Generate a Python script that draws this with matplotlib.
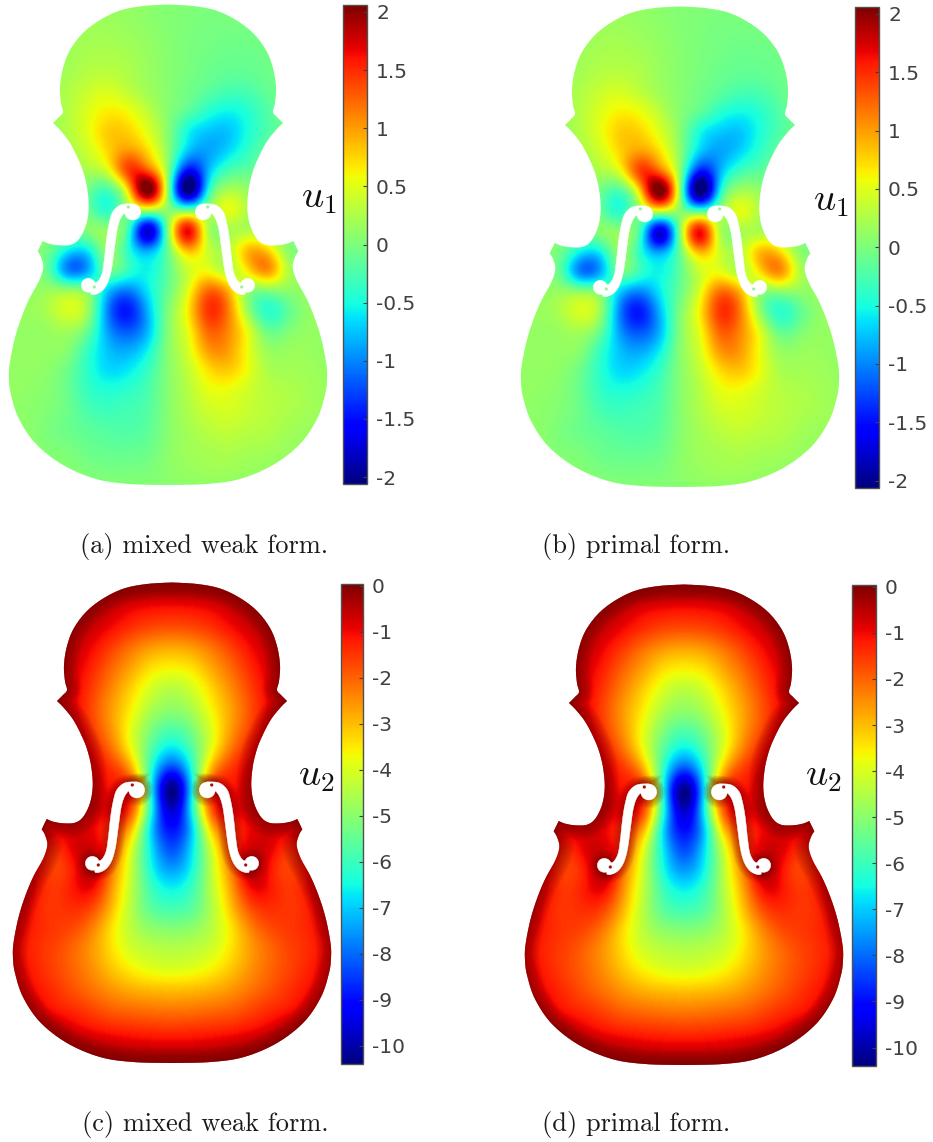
import numpy as np
import matplotlib
matplotlib.use('Agg')
import matplotlib.pyplot as plt
from matplotlib.cm import ScalarMappable
from matplotlib.colors import Normalize
from matplotlib.patches import Polygon, Circle

W, H = 933, 1142
plt.rcParams['mathtext.fontset'] = 'cm'

# left half of the violin outline, mirrored about x = 168 (pixels of panel a)
outline_x = [168, 143, 120, 100, 83, 70, 63, 60, 61, 63, 59, 53, 60, 70, 80, 85, 87.7, 88.7, 86, 79.3, 71, 59.3,
             49.3, 42.7, 37.7, 41, 43.3, 39.3, 29.3, 21, 14.3, 9.5, 9, 11, 19, 36, 63, 96, 129, 168]
outline_y = [4.5, 6, 10.5, 20, 33, 50, 68, 87, 103, 112, 117, 123, 130, 143, 163, 178, 192, 208.7, 225, 238.7,
             244.7, 245.3, 243.7, 241, 251.3, 257, 267, 280.3, 298.7, 318.7, 340.3, 365, 380, 395, 419, 444, 465,
             479, 484, 485]
outline_corners = [11, 23, 24]

# left f-hole stem, its two bulbs and the small nick in each bulb
hole_x = [132.7, 121, 113, 109.5, 106.8, 104.2, 102, 97.7, 92.7, 91, 99.8, 106.8, 111.2, 114.2, 117, 120.3, 125,
          129.3]
hole_y = [203.8, 204.8, 211.5, 222, 237, 260.3, 273.7, 281.5, 284.3, 294.2, 292.5, 284.5, 270.8, 250.3, 230.3,
          219, 212.5, 210.3]
bulb_x = [132.7, 88.3]
bulb_y = [212, 285.3]
bulb_r = [8, 7]
nick_x = [128.3, 94.3]
nick_y = [207, 287]

grid_x = [-12, 8, 28, 48, 68, 88, 108, 128, 148, 168, 188, 208, 228, 248, 268, 288, 308, 328, 348]
grid_y = list(range(10, 491, 20))

u1_field = [
    [.10, .10, .10, .10, .12, .14, .14, .12, .08, .04, .02, .00, .00, .00, .02, .03, .04, .04, .04],
    [.10, .10, .10, .12, .14, .18, .18, .15, .10, .05, .01, -.02, -.03, -.03, -.01, .02, .04, .04, .04],
    [.10, .10, .12, .14, .18, .22, .23, .20, .13, .06, .00, -.04, -.07, -.07, -.04, .01, .04, .04, .04],
    [.10, .10, .12, .15, .20, .28, .30, .25, .15, .06, -.01, -.08, -.12, -.12, -.07, .00, .04, .04, .04],
    [.10, .10, .12, .16, .26, .38, .45, .33, .18, .06, -.05, -.16, -.26, -.24, -.12, -.01, .04, .04, .04],
    [.10, .10, .12, .16, .28, .48, .63, .56, .32, .06, -.15, -.40, -.52, -.42, -.20, -.03, .04, .04, .04],
    [.10, .10, .10, .14, .28, .52, .78, .76, .48, .06, -.50, -.72, -.74, -.48, -.22, -.05, .04, .04, .04],
    [.10, .10, .10, .12, .22, .42, .75, 1.00, .72, .08, -.72, -.88, -.68, -.38, -.12, .00, .04, .04, .04],
    [.10, .10, .10, .10, .12, .24, .50, 1.40, 1.28, .10, -1.50, -.85, -.30, -.15, .00, .02, .04, .04, .04],
    [.10, .10, .10, .08, .05, -.05, -.25, .75, 2.15, .12, -2.15, -.55, .20, .12, .05, .04, .04, .04, .04],
    [.10, .10, .10, .10, .08, -.10, -.40, .10, .30, .08, -.10, .10, .52, .25, .10, .05, .04, .04, .04],
    [.10, .10, .08, .05, -.05, .05, .10, -.30, -1.75, .02, 1.65, .30, .20, .25, .15, .08, .05, .04, .04],
    [.10, .08, .02, -.05, -.55, -.55, .10, -.40, -.90, -.10, .90, .42, .30, .85, .75, .10, .05, .04, .04],
    [.10, .08, .02, -.15, -1.00, -.85, -.10, -.35, -.55, -.15, .40, .55, .30, .70, 1.05, .30, .08, .04, .04],
    [.10, .10, .10, .15, .10, -.05, -.70, -1.00, -.60, -.10, .50, 1.20, .90, .15, .08, .10, .10, .05, .05],
    [.10, .12, .15, .25, .45, .15, -1.00, -1.45, -.80, .00, .65, 1.45, 1.15, .15, -.40, -.15, .10, .08, .05],
    [.10, .12, .12, .15, .20, -.10, -.90, -1.20, -.80, .03, .55, 1.25, 1.10, .50, -.10, .00, .12, .10, .05],
    [.10, .12, .12, .12, .05, -.35, -.75, -.85, -.55, .05, .45, 1.00, 1.00, .55, .15, .14, .15, .10, .05],
    [.10, .12, .12, .08, -.08, -.40, -.65, -.60, -.35, .05, .35, .70, .80, .55, .25, .20, .18, .12, .05],
    [.10, .12, .10, .05, -.10, -.35, -.45, -.40, -.25, .05, .28, .52, .55, .42, .30, .25, .20, .14, .05],
    [.10, .10, .08, .03, -.08, -.25, -.32, -.28, -.20, .05, .25, .40, .45, .38, .30, .25, .20, .14, .05],
    [.10, .10, .08, .00, -.08, -.15, -.20, -.22, -.15, .05, .20, .30, .35, .30, .27, .20, .15, .12, .05],
    [.10, .10, .08, .03, .00, -.08, -.12, -.12, -.08, .07, .18, .22, .25, .22, .20, .15, .12, .08, .05],
    [.08, .08, .06, .05, .04, .00, -.02, -.02, .00, .08, .14, .18, .18, .15, .12, .10, .08, .06, .05],
    [.05, .05, .05, .05, .05, .05, .05, .05, .05, .05, .08, .08, .08, .08, .08, .06, .05, .05, .05],
]

# u2 is symmetric: columns are 0, 20, ..., 180 px from the centre line
u2_half = [
    [-.30, -.28, -.22, -.12, -.05, 0, 0, 0, 0, 0],
    [-1.10, -1.05, -.90, -.60, -.30, -.08, 0, 0, 0, 0],
    [-1.80, -1.72, -1.45, -1.05, -.65, -.30, 0, 0, 0, 0],
    [-2.80, -2.65, -2.20, -1.60, -1.00, -.50, -.10, 0, 0, 0],
    [-3.60, -3.40, -2.75, -2.05, -1.30, -.65, -.05, 0, 0, 0],
    [-4.40, -4.05, -3.25, -2.40, -1.55, -.75, -.10, 0, 0, 0],
    [-4.90, -4.55, -3.60, -2.65, -1.70, -.80, -.10, 0, 0, 0],
    [-5.70, -5.15, -3.90, -2.60, -1.55, -.55, 0, 0, 0, 0],
    [-6.70, -5.70, -3.80, -2.20, -1.15, -.30, 0, 0, 0, 0],
    [-8.40, -6.30, -2.90, -1.50, -.80, -.10, 0, 0, 0, 0],
    [-10.30, -6.70, -1.80, -1.10, -.60, 0, 0, 0, 0, 0],
    [-9.80, -6.50, -1.80, -.90, -.60, -.30, -.20, 0, 0, 0],
    [-9.00, -7.00, -3.00, -1.60, -.90, -.70, -.70, -.10, 0, 0],
    [-8.30, -6.80, -4.00, -1.80, -.70, -.90, -1.40, -.60, -.10, 0],
    [-7.50, -6.50, -4.30, -2.20, -.50, -1.20, -1.60, -.80, -.10, 0],
    [-6.60, -6.00, -4.40, -2.60, -1.00, -1.20, -1.50, -.90, -.10, 0],
    [-5.90, -5.60, -4.50, -3.00, -1.70, -1.40, -1.50, -1.10, -.30, 0],
    [-5.10, -4.95, -4.40, -3.40, -2.30, -1.70, -1.50, -1.20, -.60, 0],
    [-4.50, -4.40, -4.10, -3.40, -2.60, -2.00, -1.60, -1.30, -.80, -.10],
    [-4.00, -3.90, -3.60, -3.10, -2.50, -2.00, -1.60, -1.20, -.70, -.10],
    [-3.10, -3.05, -2.90, -2.60, -2.20, -1.80, -1.40, -1.00, -.50, 0],
    [-2.30, -2.25, -2.15, -2.00, -1.70, -1.40, -1.10, -.60, -.10, 0],
    [-1.50, -1.48, -1.40, -1.30, -1.10, -.80, -.40, -.10, 0, 0],
    [-.70, -.68, -.62, -.50, -.35, -.15, 0, 0, 0, 0],
    [0, 0, 0, 0, 0, 0, 0, 0, 0, 0],
]

u1_ticks = [-2, -1.5, -1, -0.5, 0, 0.5, 1, 1.5, 2]
u1_tick_labels = ['-2', '-1.5', '-1', '-0.5', '0', '0.5', '1', '1.5', '2']
u2_ticks = [-10, -9, -8, -7, -6, -5, -4, -3, -2, -1, 0]
u2_tick_labels = ['-10', '-9', '-8', '-7', '-6', '-5', '-4', '-3', '-2', '-1', '0']

CENTER = 168


def rect(x0, y0, x1, y1):
    return [x0 / W, 1 - y1 / H, (x1 - x0) / W, (y1 - y0) / H]


def smooth(x, y, corners=()):
    # round off a traced polyline, keeping the listed points as sharp corners
    pts = np.column_stack([x, y])
    cuts = [0] + list(corners) + [len(pts) - 1]
    out = []
    for a, b in zip(cuts[:-1], cuts[1:]):
        seg = pts[a:b + 1]
        seg = np.vstack([seg[0], seg, seg[-1]])
        for i in range(1, len(seg) - 2):
            p0, p1, p2, p3 = seg[i - 1:i + 3]
            for t in np.linspace(0, 1, 8, endpoint=False):
                out.append(.5 * (2 * p1 + (p2 - p0) * t + (2 * p0 - 5 * p1 + 4 * p2 - p3) * t ** 2
                                 + (3 * p1 - p0 - 3 * p2 + p3) * t ** 3))
    out.append(pts[-1])
    return np.array(out)


def draw_violin(dx, dy, field, vmin, vmax, rim, nick_color):
    ax = fig.add_axes(rect(dx - 10, dy, dx + 340, dy + 495))
    ax.set_xlim(-10, 340)
    ax.set_ylim(495, 0)
    ax.axis('off')

    half = smooth(outline_x, outline_y, outline_corners)
    xs = np.concatenate([half[:, 0], 2 * CENTER - half[-2:0:-1, 0]])
    ys = np.concatenate([half[:, 1], half[-2:0:-1, 1]])
    body = Polygon(np.column_stack([xs, ys]), closed=True, fc='none', ec='none')
    ax.add_patch(body)

    extent = (grid_x[0] - 10, grid_x[-1] + 10, grid_y[-1] + 10, grid_y[0] - 10)
    im = ax.imshow(field, cmap='jet', vmin=vmin, vmax=vmax, extent=extent, origin='upper',
                   interpolation='spline36', interpolation_stage='data', aspect='auto')
    im.set_clip_path(body)

    stem = smooth(hole_x, hole_y)
    holes = []
    for mirror in (False, True):
        px = 2 * CENTER - stem[:, 0] if mirror else stem[:, 0]
        holes.append(Polygon(np.column_stack([px, stem[:, 1]]), closed=True))
        for bx, by, br in zip(bulb_x, bulb_y, bulb_r):
            holes.append(Circle((2 * CENTER - bx if mirror else bx, by), br))

    # dark band along the fixed boundary in the u2 plots
    if rim:
        edge = plt.cm.jet(1.0)
        for lw in range(30, 0, -2):
            ln, = ax.plot(np.append(xs, xs[0]), np.append(ys, ys[0]), color=edge, lw=lw * .72, alpha=.055,
                          solid_joinstyle='round')
            ln.set_clip_path(body)
            for h in holes:
                hp = Polygon(h.get_path().transformed(h.get_patch_transform()).vertices, closed=True,
                             fc='none', ec=edge, lw=lw * .4, alpha=.035)
                ax.add_patch(hp)
                hp.set_clip_path(body)

    for h in holes:
        h.set_facecolor('white')
        h.set_edgecolor('white')
        h.set_linewidth(.3)
        ax.add_patch(h)

    for nx, ny in zip(nick_x, nick_y):
        ax.add_patch(Circle((nx, ny), 1.6, fc=nick_color, ec='none'))
        ax.add_patch(Circle((2 * CENTER - nx, ny), 1.6, fc=nick_color, ec='none'))


def draw_colorbar(x0, y0, x1, y1, vmin, vmax, ticks, labels):
    cax = fig.add_axes(rect(x0, y0, x1, y1))
    cb = fig.colorbar(ScalarMappable(Normalize(vmin, vmax), 'jet'), cax=cax)
    cb.set_ticks(ticks)
    cb.set_ticklabels(labels)
    cb.ax.tick_params(direction='in', length=3, width=.8, color='#404040', labelcolor='#404040',
                      labelsize=14.5, pad=6.5)
    cb.outline.set_edgecolor('#505050')
    cb.outline.set_linewidth(1)


def put_text(x, y, s, **kw):
    fig.text(x / W, 1 - y / H, s, **kw)


fig = plt.figure(figsize=(W / 100, H / 100), dpi=100)

u2_field = np.hstack([np.array(u2_half)[:, ::-1], np.array(u2_half)[:, 1:]])

draw_violin(0, 0, u1_field, -2.06, 2.06, False, '#9cf2a0')
draw_violin(512, 2, u1_field, -2.06, 2.06, False, '#9cf2a0')
draw_violin(4, 578, u2_field, -10.4, 0.04, True, '#a01010')
draw_violin(516, 580, u2_field, -10.4, 0.04, True, '#a01010')

draw_colorbar(343, 5, 367, 484, -2.06, 2.06, u1_ticks, u1_tick_labels)
draw_colorbar(854.5, 7, 879, 487.5, -2.06, 2.06, u1_ticks, u1_tick_labels)
draw_colorbar(341, 584, 363, 1064, -10.4, 0.04, u2_ticks, u2_tick_labels)
draw_colorbar(852, 585, 875.5, 1066, -10.4, 0.04, u2_ticks, u2_tick_labels)

for x, y, s in [(319, 197, '$u_1$'), (831, 200, '$u_1$'), (316, 775, '$u_2$'), (823, 775, '$u_2$')]:
    put_text(x, y, s, fontsize=28, ha='center', va='center', color='#111111')

caption_font = dict(family='cmr10', fontsize=19, ha='center', va='baseline', color='#1a1a1a')
for x, y, s in [(204, 553, '(a) mixed weak form.'), (636, 553, '(b) primal form.'),
                (205, 1131, '(c) mixed weak form.'), (636, 1131, '(d) primal form.')]:
    put_text(x, y, s, **caption_font)

fig.savefig('out.png', dpi=100)
